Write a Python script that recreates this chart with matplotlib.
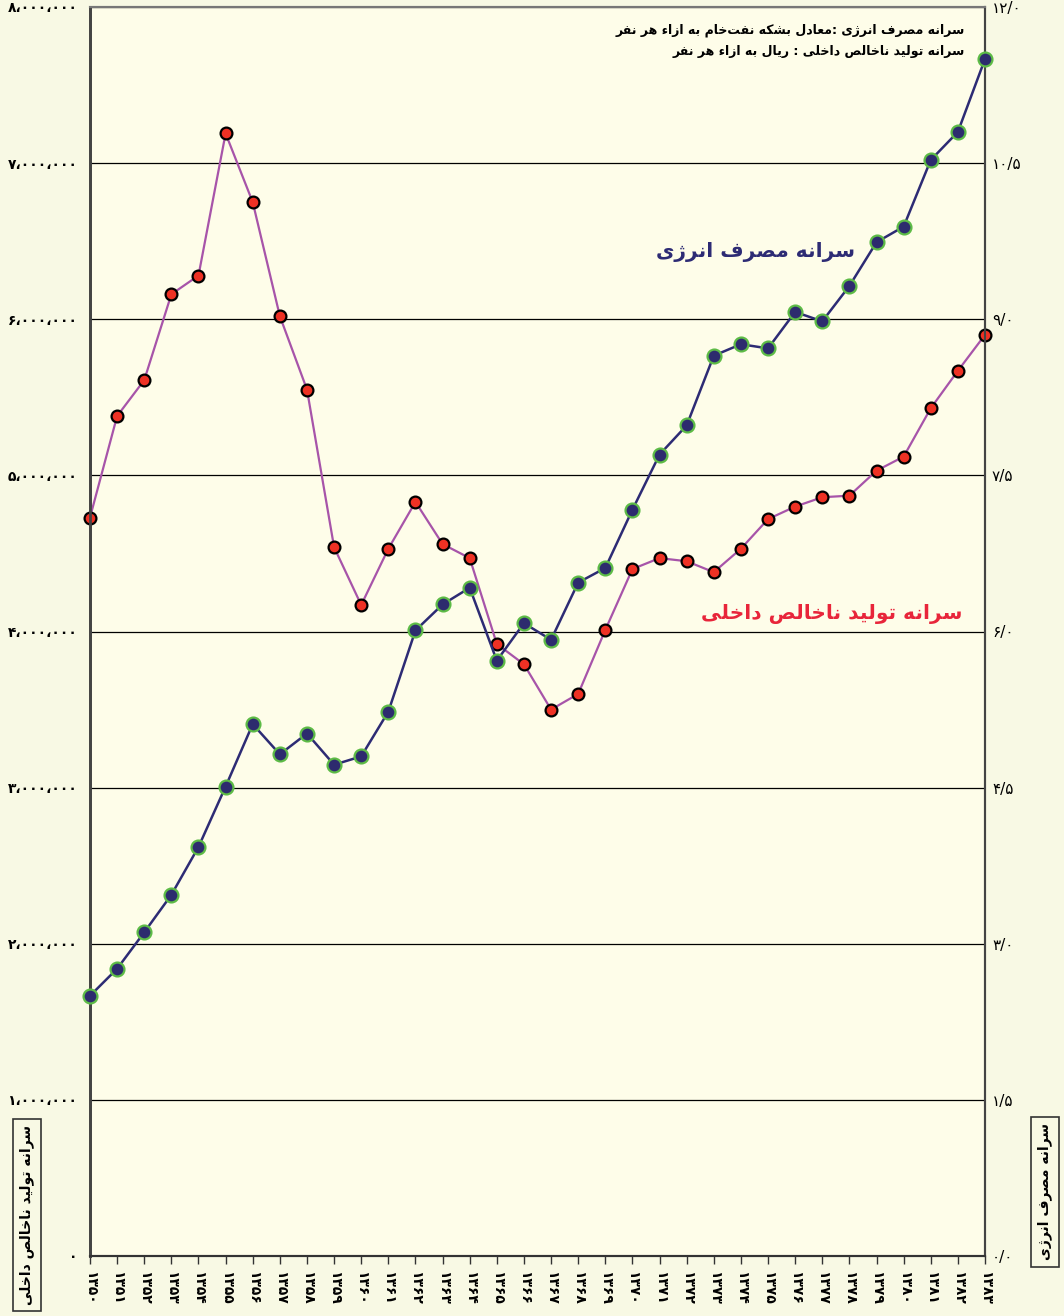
import matplotlib
matplotlib.use('Agg')
import matplotlib.pyplot as plt
from matplotlib.ticker import FixedLocator

# سال ها و داده ها
years = list(range(1350, 1384))
# سرانه تولید ناخالص داخلی (میلیون ریال)
gdp = [4.73, 5.38, 5.61, 6.16, 6.28, 7.19, 6.75, 6.02, 5.55, 4.54, 4.17, 4.53,
       4.83, 4.56, 4.47, 3.92, 3.79, 3.50, 3.60, 4.01, 4.40, 4.47, 4.45, 4.38,
       4.53, 4.72, 4.80, 4.86, 4.87, 5.03, 5.12, 5.43, 5.67, 5.90]
# سرانه مصرف انرژی (بشکه نفت خام)
energy = [2.50, 2.76, 3.11, 3.47, 3.93, 4.51, 5.11, 4.82, 5.02, 4.72, 4.80, 5.23,
          6.01, 6.26, 6.42, 5.72, 6.08, 5.92, 6.47, 6.61, 7.17, 7.70, 7.98, 8.65,
          8.76, 8.72, 9.07, 8.98, 9.32, 9.74, 9.89, 10.53, 10.80, 11.50]
left_ticks = [0, 1000000, 2000000, 3000000, 4000000, 5000000, 6000000, 7000000, 8000000]
right_ticks = [0, 1.5, 3.0, 4.5, 6.0, 7.5, 9.0, 10.5, 12.0]

title_energy = 'سرانه مصرف انرژی'
title_gdp = 'سرانه تولید ناخالص داخلی'
note1 = 'سرانه مصرف انرژی :معادل بشکه نفت\u200cخام به ازاء هر نفر'
note2 = 'سرانه تولید ناخالص داخلی : ریال به ازاء هر نفر'

# شکل های حروف (تنها، پایانی، آغازی، میانی)
FORMS = {
    'ا': ('\uFE8D', '\uFE8E', None, None),
    'ب': ('\uFE8F', '\uFE90', '\uFE91', '\uFE92'),
    'ت': ('\uFE95', '\uFE96', '\uFE97', '\uFE98'),
    'خ': ('\uFEA5', '\uFEA6', '\uFEA7', '\uFEA8'),
    'د': ('\uFEA9', '\uFEAA', None, None),
    'ر': ('\uFEAD', '\uFEAE', None, None),
    'ز': ('\uFEAF', '\uFEB0', None, None),
    'ژ': ('\u0698', '\uFB8B', None, None),
    'س': ('\uFEB1', '\uFEB2', '\uFEB3', '\uFEB4'),
    'ش': ('\uFEB5', '\uFEB6', '\uFEB7', '\uFEB8'),
    'ص': ('\uFEB9', '\uFEBA', '\uFEBB', '\uFEBC'),
    'ع': ('\uFEC9', '\uFECA', '\uFECB', '\uFECC'),
    'ف': ('\uFED1', '\uFED2', '\uFED3', '\uFED4'),
    'ک': ('\uFED9', '\uFEDA', '\uFEDB', '\uFEDC'),
    'ل': ('\uFEDD', '\uFEDE', '\uFEDF', '\uFEE0'),
    'م': ('\uFEE1', '\uFEE2', '\uFEE3', '\uFEE4'),
    'ن': ('\uFEE5', '\uFEE6', '\uFEE7', '\uFEE8'),
    'ه': ('\uFEE9', '\uFEEA', '\uFEEB', '\uFEEC'),
    'و': ('\uFEED', '\uFEEE', None, None),
    'ی': ('\uFEEF', '\uFEF0', '\uFEF3', '\uFEF4'),
    'ء': ('\uFE80', None, None, None),
}


def fa(text):
    # اتصال حروف و برگرداندن ترتیب برای نمایش راست به چپ
    out = []
    n = len(text)
    for i, c in enumerate(text):
        if c not in FORMS:
            if c != '\u200c':
                out.append(c)
            continue
        iso, fin, ini, med = FORMS[c]
        p = text[i - 1] if i > 0 else ''
        nx = text[i + 1] if i + 1 < n else ''
        jp = fin is not None and p in FORMS and FORMS[p][2] is not None
        jn = ini is not None and nx in FORMS and FORMS[nx][1] is not None
        if jp and jn:
            out.append(med)
        elif jp:
            out.append(fin)
        elif jn:
            out.append(ini)
        else:
            out.append(iso)
    return ''.join(out[::-1])


DIG = str.maketrans('0123456789', '۰۱۲۳۴۵۶۷۸۹')


def fa_num(s):
    return s.translate(DIG)


plt.rcParams['font.family'] = ['DejaVu Sans']

fig = plt.figure(figsize=(10.64, 13.16), dpi=100, facecolor='#F8F9E4')
ax = fig.add_axes([90 / 1064, 1 - 1256 / 1316, 895 / 1064, 1249 / 1316])
ax.set_facecolor('#FEFDE9')
ax2 = ax.twinx()

ax.plot(years, [g * 1e6 for g in gdp], color='#A754A9', lw=1.6,
        marker='o', markersize=8.5, markerfacecolor='#EE3124',
        markeredgecolor='black', markeredgewidth=1.6, clip_on=False, zorder=3)
ax2.plot(years, energy, color='#2D2B74', lw=1.8, marker='o', markersize=10,
         markerfacecolor='#2D2B6E', markeredgecolor='#5DBB46',
         markeredgewidth=1.6, clip_on=False, zorder=3)

ax.set_xlim(years[0], years[-1])
ax.set_ylim(0, 8e6)
ax2.set_ylim(0, 12)

ax.yaxis.set_major_locator(FixedLocator(left_ticks))
ax.set_yticklabels([fa_num(f'{v:,}').replace(',', '،') for v in left_ticks],
                   fontsize=10, fontweight='bold')
ax2.yaxis.set_major_locator(FixedLocator(right_ticks))
ax2.set_yticklabels([fa_num(f'{v:.1f}').replace('.', '/') for v in right_ticks],
                    fontsize=11)
ax.tick_params(axis='y', length=0, pad=9)
ax2.tick_params(axis='y', length=0, pad=5)

ax.set_xticks(years)
ax.set_xticklabels([fa_num(str(y)) for y in years], rotation=270,
                   fontsize=10, fontweight='bold')
ax.tick_params(axis='x', length=6, width=1, color='#333333', pad=5)

ax.grid(axis='y', color='black', lw=0.9)
ax.set_axisbelow(True)

for a in (ax, ax2):
    a.spines['left'].set_color('#444444')
    a.spines['left'].set_linewidth(2)
    a.spines['bottom'].set_color('#333333')
    a.spines['bottom'].set_linewidth(1.5)
    a.spines['right'].set_color('#444444')
    a.spines['right'].set_linewidth(1.5)
    a.spines['top'].set_color('#777777')
    a.spines['top'].set_linewidth(1.5)

# نوشته ها
fig.text(965 / 1064, 1 - 30 / 1316, fa(note1), ha='right', va='center',
         fontsize=9, fontweight='bold')
fig.text(965 / 1064, 1 - 52 / 1316, fa(note2), ha='right', va='center',
         fontsize=9, fontweight='bold')
fig.text(855 / 1064, 1 - 252 / 1316, fa(title_energy), ha='right', va='center',
         fontsize=14.5, fontweight='bold', color='#2D2B74')
fig.text(962 / 1064, 1 - 614 / 1316, fa(title_gdp), ha='right', va='center',
         fontsize=14.5, fontweight='bold', color='#E8253A')

box = dict(boxstyle='square,pad=0.45', facecolor='none', edgecolor='#333333', lw=1.2)
fig.text(27 / 1064, 1 - 1215 / 1316, fa(title_gdp), rotation=90, ha='center',
         va='center', fontsize=10, fontweight='bold', bbox=box)
fig.text(1045 / 1064, 1 - 1192 / 1316, fa(title_energy), rotation=90, ha='center',
         va='center', fontsize=10, fontweight='bold', bbox=box)

fig.savefig('out.png', dpi=100, facecolor=fig.get_facecolor())
